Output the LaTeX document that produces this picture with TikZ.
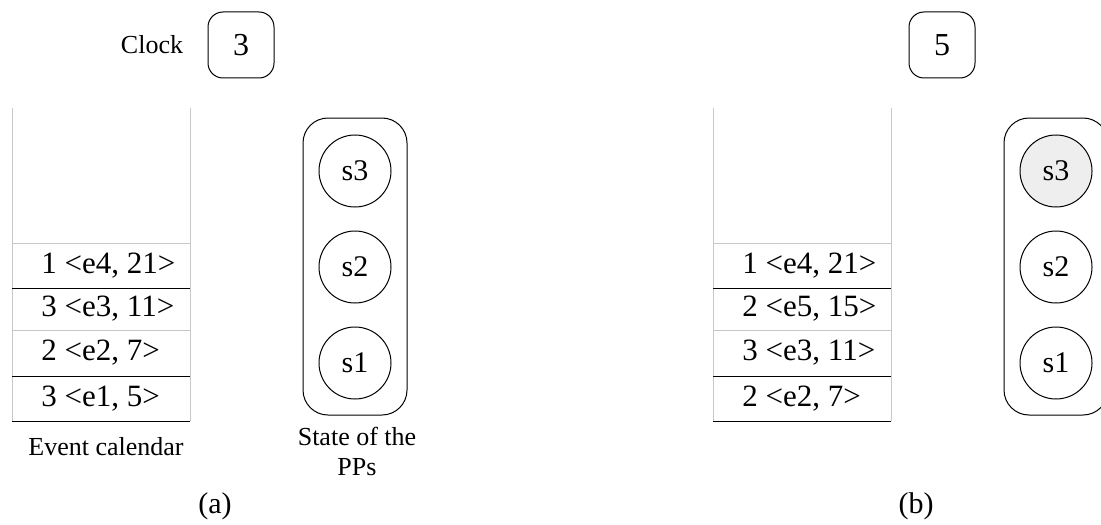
\documentclass[tikz,border=0pt]{standalone}
\usepackage{fontspec}
\setmainfont{Liberation Serif}
\usetikzlibrary{positioning}
\definecolor{rule}{HTML}{C8C8C8}
\definecolor{busy}{HTML}{EEEEEE}
\tikzset{
  clockbox/.style={draw,rounded corners=7.5pt,minimum size=33pt,line width=.5pt,font=\fontsize{16}{19}\selectfont},
  ppbox/.style={draw,rounded corners=12.5pt,minimum width=52pt,minimum height=148.5pt,line width=.5pt},
  pp/.style={circle,draw,minimum size=36pt,inner sep=0pt,line width=.5pt,font=\fontsize{15}{18}\selectfont},
  entry/.style={anchor=west,inner sep=0pt,font=\fontsize{15.5}{18}\selectfont},
  lbl/.style={inner sep=0pt,font=\fontsize{13}{15}\selectfont,align=center},
  subcap/.style={inner sep=0pt,font=\fontsize{15}{18}\selectfont}
}

\begin{document}
\begin{tikzpicture}[x=.5pt,y=-.5pt]
\clip (0,0) rectangle (1101,524);
% event calendar grids, both panels
\foreach \dx in {0,701}{
  \draw[rule,line width=.5pt] (12+\dx,108)--(12+\dx,421) (190+\dx,108)--(190+\dx,421);
  \foreach \y in {243,330}{\draw[rule,line width=.5pt] (12+\dx,\y)--(190+\dx,\y);}
  \foreach \y in {288,376,421}{\draw[line width=.5pt] (12+\dx,\y)--(190+\dx,\y);}
}
% (a)
\node[clockbox] (clockA) at (241,45) {3};
\node[lbl,left=12pt of clockA] (clockLbl) {Clock};
\foreach \y/\t [count=\i] in {265.5/{1 <e4, 21>},309/{3 <e3, 11>},353/{2 <e2, 7>},398.5/{3 <e1, 5>}}
  \node[entry] (calA\i) at (41,\y) {\t};
\node[lbl] (calLbl) at (106,447) {Event calendar};
\node[ppbox] (ppA) at (355,266.5) {};
\node[pp] (s3a) at (355,171) {s3};
\node[pp] (s2a) at (355,267) {s2};
\node[pp] (s1a) at (355,363) {s1};
\node[lbl] (ppLbl) at (357,451) {State of the\\PPs};
\node[subcap] (capA) at (215,506) {(a)};
% (b)
\node[clockbox] (clockB) at (942,45) {5};
\foreach \y/\t [count=\i] in {265.5/{1 <e4, 21>},309/{2 <e5, 15>},353/{3 <e3, 11>},398.5/{2 <e2, 7>}}
  \node[entry] (calB\i) at (742,\y) {\t};
\node[ppbox] (ppB) at (1056,266.5) {};
\node[pp,fill=busy] (s3b) at (1056,171) {s3};
\node[pp] (s2b) at (1056,267) {s2};
\node[pp] (s1b) at (1056,363) {s1};
\node[subcap] (capB) at (916,506) {(b)};
\end{tikzpicture}
\end{document}
